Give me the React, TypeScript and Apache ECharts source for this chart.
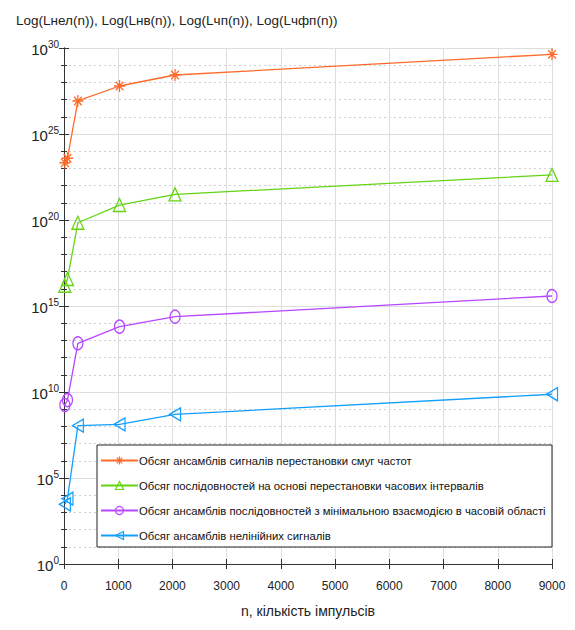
import React, { useEffect, useRef } from "react";
import * as echarts from "echarts";

const nValues = [16, 64, 256, 1024, 2048, 9000];
// log10 of each ensemble size
const logNel = [23.33, 23.59, 26.92, 27.79, 28.43, 29.63];
const logNv = [16.18, 16.57, 19.84, 20.87, 21.49, 22.62];
const logChp = [9.24, 9.53, 12.83, 13.8, 14.38, 15.58];
const logChfp = [3.47, 3.8, 8.04, 8.12, 8.7, 9.87];

const seriesNames = [
  "Обсяг ансамблів сигналів перестановки смуг частот",
  "Обсяг послідовностей на основі перестановки часових інтервалів",
  "Обсяг ансамблів послідовностей з мінімальною взаємодією в часовій області",
  "Обсяг ансамблів нелінійних сигналів",
];
const yTickExponents = [0, 5, 10, 15, 20, 25, 30];
const xTicks = [0, 1000, 2000, 3000, 4000, 5000, 6000, 7000, 8000, 9000];

const title = "Log(Lнел(n)), Log(Lнв(n)), Log(Lчп(n)), Log(Lчфп(n))";
const xName = "n, кількість імпульсів";

const colors = ["#FF6929", "#64D413", "#B746FF", "#12A0FF"];
const FONT = "'Liberation Sans Narrow', 'Arial Narrow', 'Liberation Sans', sans-serif";

const asterisk = "path://M0,5L10,5M5,0L5,10M1.5,1.5L8.5,8.5M8.5,1.5L1.5,8.5";
const leftTri = "path://M10,0L0,5L10,10Z";
const upTri = "path://M5,0L10,10L0,10Z";

export default function App() {
  const ref = useRef<HTMLDivElement>(null);
  useEffect(() => {
    if (!ref.current) return;
    const chart = echarts.init(ref.current, null, { renderer: "svg" });
    const allData = [logNel, logNv, logChp, logChfp];
    const symbols = [asterisk, upTri, "circle", leftTri];
    const sizes: any[] = [[11, 12], [12, 13], [10, 13], [11, 13]];
    const series = allData.map((d, i) => ({
      type: "line",
      name: seriesNames[i],
      data: d.map((v, j) => [nValues[j], v]),
      symbol: symbols[i],
      symbolSize: sizes[i],
      showAllSymbol: true,
      color: colors[i],
      lineStyle: { color: colors[i], width: 1.3 },
      itemStyle: { color: "rgba(255,255,255,0)", borderColor: colors[i], borderWidth: 1.3 },
      z: 2,
    }));
    chart.setOption({
      animation: false,
      textStyle: { fontFamily: FONT },
      grid: { left: 64, right: 23, top: 48, bottom: 66 },
      title: {
        text: title,
        left: 11,
        top: 8,
        textStyle: { fontFamily: FONT, fontSize: 13.5, fontWeight: "normal", color: "#222" },
      },
      xAxis: [
        {
          type: "value",
          min: 0,
          max: 9000,
          interval: 1000,
          name: xName,
          nameLocation: "middle",
          nameGap: 40,
          nameTextStyle: { fontFamily: FONT, fontSize: 14, color: "#222" },
          axisLine: { show: true, lineStyle: { color: "#333", width: 1 } },
          axisTick: { show: true, inside: true, length: 5, lineStyle: { color: "#333" } },
          axisLabel: { fontFamily: FONT, fontSize: 12, color: "#222", margin: 16,
            formatter: (v: number) => (xTicks.includes(v) ? String(v) : "") },
          splitLine: { show: true, lineStyle: { color: "#dedede", width: 1 } },
        },
        {
          type: "value",
          position: "top",
          min: 0,
          max: 9000,
          interval: 1000,
          axisLine: { show: true, lineStyle: { color: "#333", width: 1 } },
          axisTick: { show: true, inside: true, length: 5, lineStyle: { color: "#333" } },
          axisLabel: { show: false },
          splitLine: { show: false },
        },
      ],
      yAxis: [
        {
          type: "value",
          min: 0,
          max: 30,
          interval: 5,
          axisLine: { show: true, lineStyle: { color: "#333", width: 1 } },
          axisTick: { show: true, inside: true, length: 5, lineStyle: { color: "#333" } },
          minorTick: { show: true, splitNumber: 5, length: 3, lineStyle: { color: "#333" } },
          axisLabel: {
            margin: 5,
            formatter: (v: number) => (yTickExponents.includes(v) ? `{b|10}{s|${v}}` : ""),
            rich: {
              b: { fontFamily: FONT, fontSize: 15, color: "#222", verticalAlign: "bottom", lineHeight: 18 },
              s: { fontFamily: FONT, fontSize: 10, color: "#222", verticalAlign: "top", lineHeight: 18, padding: [0, 0, 8, 0] },
            },
          },
          splitLine: { show: true, lineStyle: { color: "#dedede", width: 1 } },
          minorSplitLine: { show: true, lineStyle: { color: "#cfcfcf", type: [2, 3], width: 1 } },
        },
        {
          type: "value",
          position: "right",
          min: 0,
          max: 30,
          interval: 5,
          axisLine: { show: true, lineStyle: { color: "#333", width: 1 } },
          axisTick: { show: true, inside: true, length: 5, lineStyle: { color: "#333" } },
          minorTick: { show: true, splitNumber: 5, length: 3, lineStyle: { color: "#333" } },
          axisLabel: { show: false },
          splitLine: { show: false },
        },
      ],
      legend: {
        orient: "vertical",
        left: 100,
        top: 455,
        itemWidth: 37,
        itemHeight: 10,
        itemGap: 14,
        padding: 0,
        z: 10,
        data: seriesNames,
        itemStyle: { color: "rgba(255,255,255,0)", borderColor: "inherit", borderWidth: 1.2 },
        textStyle: { fontFamily: FONT, fontSize: 11.3, color: "#111", padding: [0, 0, 0, -4] },
      },
      graphic: [
        {
          type: "rect",
          z: 5,
          shape: { x: 97, y: 445, width: 455, height: 102 },
          style: { fill: "#fff", stroke: "#222", lineWidth: 1 },
        },
      ],
      series,
    });
    return () => chart.dispose();
  }, []);
  return <div ref={ref} style={{ width: 575, height: 630, margin: -8 }} />;
}
